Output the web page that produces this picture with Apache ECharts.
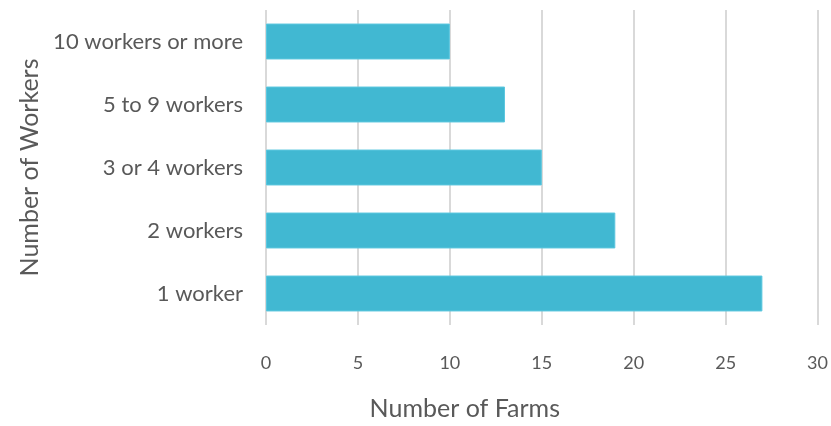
<!DOCTYPE html>
<html>
<head>
<meta charset="utf-8">
<script src="https://cdn.jsdelivr.net/npm/echarts@6/dist/echarts.min.js"></script>
<style>
  html, body { margin: 0; padding: 0; background: #fff; }
  #main { width: 831px; height: 426px; }
</style>
</head>
<body>
<div id="main"></div>
<script>
// categories from bottom to top, as on the picture
const categories = ['1 worker', '2 workers', '3 or 4 workers', '5 to 9 workers', '10 workers or more'];
const farms = [27, 19, 15, 13, 10];

const chart = echarts.init(document.getElementById('main'));
const textColor = '#595959';
const fontFam = 'Lato, "Open Sans", sans-serif';

chart.setOption({
    animation: false,
    grid: { left: 266, right: 10, top: 10, bottom: 98 },
    xAxis: {
        type: 'value',
        min: 0,
        max: 30,
        interval: 5,
        name: 'Number of Farms',
        nameLocation: 'middle',
        nameGap: 71,
        // name sits left of the plot centre in the original
        nameTextStyle: { color: textColor, fontSize: 25, fontFamily: fontFam, padding: [0, 154, 0, 0] },
        axisLine: { show: false },
        axisTick: { show: false },
        axisLabel: { color: textColor, fontSize: 18, fontFamily: fontFam, margin: 29 },
        splitLine: { lineStyle: { color: '#d9d9d9', width: 2 } }
    },
    yAxis: {
        type: 'category',
        data: categories,
        name: 'Number of Workers',
        nameLocation: 'middle',
        nameGap: 220,
        nameTextStyle: { color: textColor, fontSize: 25, fontFamily: fontFam },
        axisLine: { show: false },
        axisTick: { show: false },
        axisLabel: { color: textColor, fontSize: 22, fontFamily: fontFam, margin: 23 }
    },
    series: [{
        type: 'bar',
        data: farms,
        barWidth: '57%',
        itemStyle: { color: '#41b8d2', borderColor: '#5cc7df', borderWidth: 1 }
    }]
});
</script>
</body>
</html>
